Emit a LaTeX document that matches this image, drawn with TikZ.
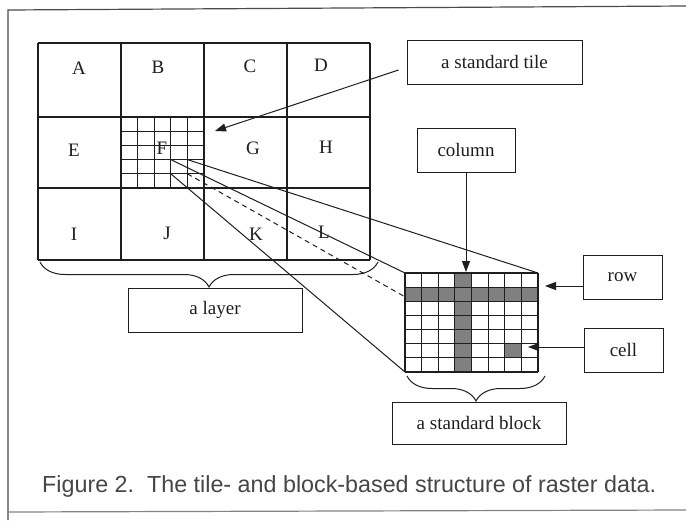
\documentclass[tikz,border=0pt]{standalone}
\usepackage{fontspec}
\setmainfont{Liberation Serif}
\newfontfamily\capfont{Liberation Sans}
\usetikzlibrary{arrows.meta,decorations.pathreplacing,calc}
\definecolor{ink}{RGB}{30,30,30}
\definecolor{cellgrey}{RGB}{128,128,128}
\definecolor{captext}{RGB}{70,70,70}
\begin{document}
\begin{tikzpicture}[x=1pt,y=-1pt,
  every node/.style={font=\fontsize{19}{22}\selectfont, text=ink},
  label box/.style={draw=ink, line width=1pt, inner sep=0pt, anchor=center},
  grid line/.style={draw=ink, line width=1.1pt},
  link line/.style={draw=ink, line width=1pt},
  pointer/.style={draw=ink, line width=1pt, -{Triangle[length=11pt,width=8pt]}},
  bracket/.style={draw=ink, line width=1pt, decorate, decoration={brace, mirror, amplitude=25pt}},
]
\useasboundingbox (0,0) rectangle (686,520);
\fill[white] (0,0) rectangle (686,520);
% frame
\draw[ink!80, line width=1.2pt] (8,520) -- (8,10) -- (686,6);
\draw[ink!55, line width=1.2pt] (8,512) -- (686,510);

% layer grid
\foreach \x in {38,121,204,287,370} \draw[grid line] (\x,43) -- (\x,260);
\foreach \y in {43,117,188,260} \draw[grid line] (38,\y) -- (370,\y);
% tile F subdivided
\foreach \i in {1,...,4} \draw[grid line] ({121+\i*16.6},117) -- ({121+\i*16.6},188);
\foreach \i in {1,...,4} \draw[grid line] (121,{117+\i*14.2}) -- (204,{117+\i*14.2});

% tile letters
\node (tA) at (79,68) {A};
\node (tB) at (158,67) {B};
\node (tC) at (250,66) {C};
\node (tD) at (321,65) {D};
\node (tE) at (74,150) {E};
\node (tF) at (162,148) {F};
\node (tG) at (253,148) {G};
\node (tH) at (326,147) {H};
\node (tI) at (74,234) {I};
\node (tJ) at (167,233) {J};
\node (tK) at (256,234) {K};
\node (tL) at (324,232) {L};

% block
\fill[cellgrey] (405,287.14) rectangle (538,301.29);
\fill[cellgrey] (454.875,273) rectangle (471.5,372);
\fill[cellgrey] (504.75,343.71) rectangle (521.375,357.86);
\foreach \i in {0,...,8} \draw[grid line] ({405+\i*16.625},273) -- ({405+\i*16.625},372);
\foreach \i in {0,...,7} \draw[grid line] (405,{273+\i*14.143}) -- (538,{273+\i*14.143});

% perspective links
\coordinate (sTL) at (170.8,159.6);
\coordinate (sTR) at (187.4,159.6);
\coordinate (sBL) at (170.8,173.8);
\coordinate (sBR) at (187.4,173.8);
\coordinate (bTL) at (405,273);
\coordinate (bTR) at (538,273);
\coordinate (bBL) at (405,372);
\coordinate (bBR) at (538,372);
\draw[link line, line width=1.5pt] (sTL) -- (sTR);
\draw[link line] (sTR) -- (bTR);
\draw[link line] (sTL) -- (bTL);
\draw[link line] (sBL) -- (bBL);
\draw[link line, dash pattern=on 5pt off 4pt] (sBR) -- ($(sBR)!0.6206!(bBR)$);

% label boxes
\node[label box, minimum width=175pt, minimum height=44pt] (tilebox) at (494.5,62) {a standard tile};
\node[label box, minimum width=98pt, minimum height=44pt] (colbox) at (466,150) {column};
\node[label box, minimum width=79pt, minimum height=44pt] (rowbox) at (622.5,277) {row};
\node[label box, minimum width=79pt, minimum height=44pt] (cellbox) at (623.5,350) {cell};
\node[label box, minimum width=174pt, minimum height=44pt] (layerbox) at (215,310) {a layer};
\node[label box, minimum width=174pt, minimum height=42pt] (blockbox) at (479,423) {a standard block};

% pointers
\coordinate (tileTip) at (215,131);
\coordinate (colTip) at (466,272);
\coordinate (rowTip) at (545,286);
\coordinate (cellTip) at (528,347);
\draw[pointer] ($(tilebox.west)+(-8,8)$) -- (tileTip);
\draw[pointer] (colbox.south) -- (colTip);
\draw[pointer] ($(rowbox.west)+(0,9)$) -- (rowTip);
\draw[pointer] ($(cellbox.west)+(0,-3)$) -- (cellTip);

% braces
\coordinate (layerL) at (40,262);
\coordinate (layerR) at (378,262);
\coordinate (blockL) at (407,376);
\coordinate (blockR) at (545,376);
\draw[bracket] (layerL) -- (layerR);
\draw[bracket] (blockL) -- (blockR);

% caption
\node[anchor=base west, inner sep=0pt, font=\capfont\fontsize{23.3}{26}\selectfont, text=captext] (caption) at (42,492) {Figure 2.\ \ The tile- and block-based structure of raster data.};
\end{tikzpicture}
\end{document}
